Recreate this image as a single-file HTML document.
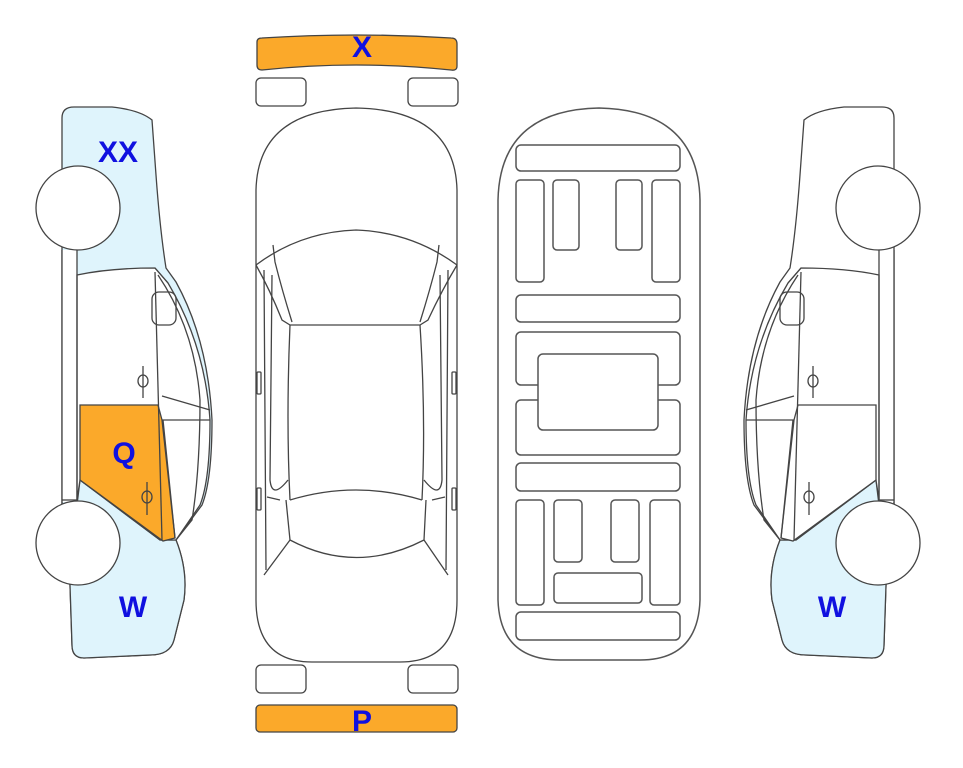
<!DOCTYPE html>
<html><head><meta charset="utf-8"><style>
html,body{margin:0;padding:0;background:#fff;}
svg{display:block}
text{font-family:"Liberation Sans",sans-serif;font-weight:bold;fill:#1010e0;font-size:30px;text-anchor:middle}
</style></head><body>
<svg width="963" height="768" viewBox="0 0 963 768" xmlns="http://www.w3.org/2000/svg">
<defs>
<g id="side" stroke="#444" stroke-width="1.3" fill="none">
  <path d="M62,118 Q62,107 74,107 L112,107 Q140,110 152,120 L156,175 Q160,230 166,268 L176,282 Q208,340 212,420 Q212,480 202,505 L176,540 Q188,570 184,600 L174,640 Q170,655 150,655 L84,658 Q72,658 72,645 L70,585 L62,505 L62,250 Z" fill="var(--top)"/>
  <path d="M70,585 L72,645 Q72,658 84,658 L150,655 Q170,655 174,640 L184,600 Q188,570 176,540 L160,540 L80,480 L77,505 L62,505 Z" fill="var(--bot)"/>
  <rect x="62" y="250" width="15" height="252" fill="#fff" stroke="none"/>
  <path d="M77,275 Q110,268 155,268 L168,283 Q205,345 210,420 Q210,480 200,505 L176,540 L160,540 L80,480 L77,500 Z" fill="#fff"/>
  <path d="M80,405 L158,405 L162,420 L175,538 L163,541 L80,480 Z" fill="var(--q)"/>
  <line x1="62" y1="250" x2="62" y2="505"/>
  <line x1="77" y1="250" x2="77" y2="505"/>
  <line x1="62" y1="500" x2="77" y2="500"/>
  <line x1="155" y1="272" x2="162" y2="540"/>
  <path d="M158,275 Q195,330 200,400 Q200,470 192,520 L176,540"/>
  <path d="M155,268 L168,283"/>
  <rect x="152" y="292" width="24" height="33" rx="7"/>
  <path d="M162,396 L210,410 M162,420 L210,420"/>
  <path d="M163,420 L175,538" />
  <line x1="143" y1="366" x2="143" y2="398"/><ellipse cx="143" cy="381" rx="5" ry="6"/>
  <line x1="147" y1="482" x2="147" y2="515"/><ellipse cx="147" cy="497" rx="5" ry="6"/>
  <circle cx="78" cy="208" r="42" fill="#fff"/>
  <circle cx="78" cy="543" r="42" fill="#fff"/>
</g>
</defs>
<use href="#side" style="--top:#dff4fc;--bot:#dff4fc;--q:#fba92a"/>
<use href="#side" transform="translate(956,0) scale(-1,1)" style="--top:#fff;--bot:#dff4fc;--q:#fff"/>

<g stroke="#444" stroke-width="1.3" fill="none">
  <path d="M257,42 Q257,38 262,38 Q356,32 451,38 Q457,38 457,44 L457,66 Q457,71 451,70 Q356,60 262,70 Q257,70 257,65 Z" fill="#fba92a"/>
  <rect x="256" y="78" width="50" height="28" rx="5"/>
  <rect x="408" y="78" width="50" height="28" rx="5"/>
  <rect x="256" y="665" width="50" height="28" rx="5"/>
  <rect x="408" y="665" width="50" height="28" rx="5"/>
  <rect x="256" y="705" width="201" height="27" rx="4" fill="#fba92a"/>
  <path d="M256,190 Q258,110 356,108 Q455,110 457,190 L457,600 Q457,662 400,662 L312,662 Q256,662 256,600 Z"/>
  <path d="M256,265 Q300,232 356,230 Q412,232 457,265"/>
  <path d="M256,265 Q270,290 282,320 L290,325 L420,325 L428,320 Q442,290 457,265"/>
  <path d="M273,245 L275,262 Q282,290 292,322 M439,245 L437,262 Q430,290 420,322"/>
  <path d="M290,325 Q286,420 290,500 M420,325 Q426,420 422,500"/>
  <path d="M264,270 L266,570 M448,270 L446,570 M272,275 L270,480 Q272,500 288,480 M440,275 L442,480 Q440,500 424,480"/>
  <path d="M290,500 Q356,480 422,500"/>
  <path d="M286,500 L290,540 Q356,575 424,540 L426,500"/>
  <path d="M290,540 L264,575 M424,540 L448,575"/>
  <path d="M267,497 L280,500 M445,497 L432,500"/>
  <rect x="257" y="372" width="4" height="22" rx="1"/>
  <rect x="452" y="372" width="4" height="22" rx="1"/>
  <rect x="257" y="488" width="4" height="22" rx="1"/>
  <rect x="452" y="488" width="4" height="22" rx="1"/>
</g>

<g stroke="#555" stroke-width="1.5" fill="none">
  <path d="M498,200 Q500,110 599,108 Q698,110 700,200 L700,600 Q698,660 640,660 L560,660 Q500,660 498,600 Z"/>
  <rect x="516" y="145" width="164" height="26" rx="5"/>
  <rect x="516" y="180" width="28" height="102" rx="4"/>
  <rect x="553" y="180" width="26" height="70" rx="4"/>
  <rect x="616" y="180" width="26" height="70" rx="4"/>
  <rect x="652" y="180" width="28" height="102" rx="4"/>
  <rect x="516" y="295" width="164" height="27" rx="5"/>
  <rect x="516" y="332" width="164" height="53" rx="5"/>
  <rect x="516" y="400" width="164" height="55" rx="5"/>
  <rect x="538" y="354" width="120" height="76" rx="5" fill="#fff"/>
  <rect x="516" y="463" width="164" height="28" rx="5"/>
  <rect x="516" y="500" width="28" height="105" rx="4"/>
  <rect x="554" y="500" width="28" height="62" rx="4"/>
  <rect x="611" y="500" width="28" height="62" rx="4"/>
  <rect x="650" y="500" width="30" height="105" rx="4"/>
  <rect x="554" y="573" width="88" height="30" rx="4"/>
  <rect x="516" y="612" width="164" height="28" rx="5"/>
</g>

<text x="118" y="162">XX</text>
<text x="124" y="463">Q</text>
<text x="133" y="617">W</text>
<text x="832" y="617">W</text>
<text x="362" y="57">X</text>
<text x="362" y="731">P</text>
</svg>
</body></html>
